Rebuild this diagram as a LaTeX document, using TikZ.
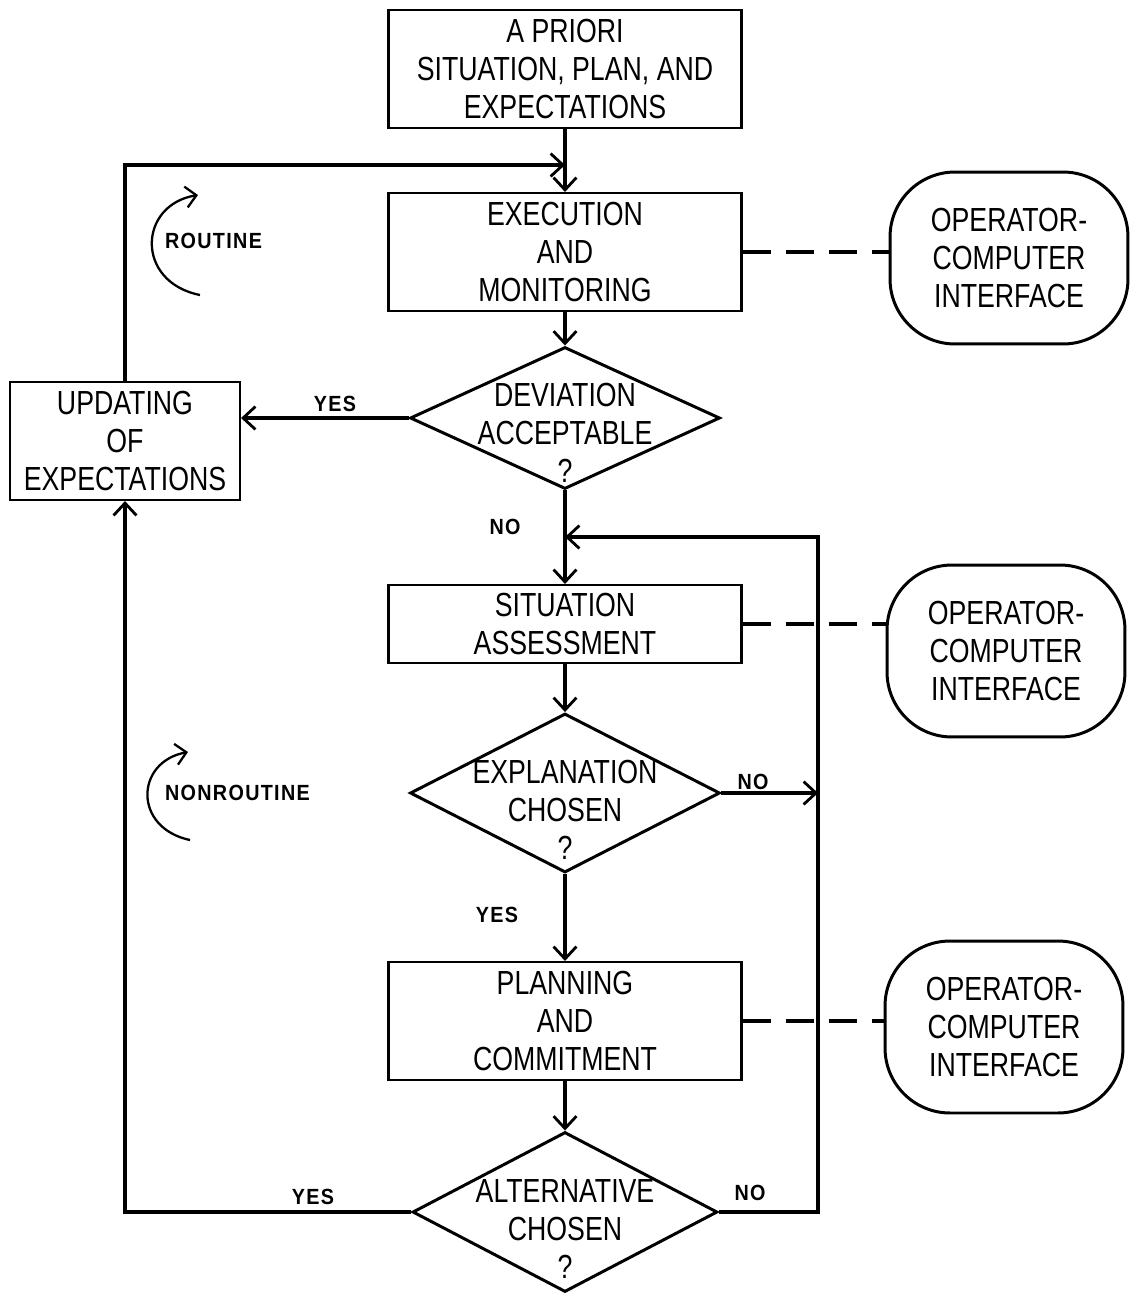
\documentclass[tikz,border=0pt]{standalone}
\usepackage{fontspec}
\setmainfont[FakeStretch=0.8]{Liberation Sans}
\newfontfamily\lblfont[FakeStretch=0.9,LetterSpace=6]{Liberation Sans}
\usetikzlibrary{arrows.meta,shapes.geometric,calc}

\tikzset{
  txt/.style={font=\fontsize{19}{21.8}\selectfont,align=center},
  box/.style={txt,draw,line width=1.2pt,inner sep=0pt,minimum width=7.06cm,minimum height=2.36cm},
  decision/.style={diamond,draw,line width=1.7pt,inner sep=0pt,minimum width=6.2cm,minimum height=2.9cm},
  iface/.style={txt,draw,line width=1.7pt,rounded corners=1.3cm,inner sep=0pt,minimum width=4.76cm,minimum height=3.44cm},
  flow/.style={line width=1.8pt,-{Straight Barb[length=7pt,width=13pt,line width=1.6pt]}},
  link/.style={line width=1.9pt,dash pattern=on 0.56cm off 0.3cm},
  turn/.style={line width=1.3pt,-{Straight Barb[length=6pt,width=12pt,line width=1.3pt]}},
  lbl/.style={font=\lblfont\bfseries\fontsize{12.5}{14}\selectfont,inner sep=1pt}
}

\begin{document}
\begin{tikzpicture}[x=0.02cm,y=-0.02cm]
  \useasboundingbox (0,0) rectangle (1131,1295);
  % main column
  \node[box] (A) at (565,69) {A PRIORI\\SITUATION, PLAN, AND\\EXPECTATIONS};
  \node[box] (E) at (565,252) {EXECUTION\\AND\\MONITORING};
  \node[decision,minimum height=2.84cm] (D) at (565,418) {};
  \node[txt] (Dt) at (565,433) {DEVIATION\\ACCEPTABLE\\?};
  \node[box,minimum height=1.56cm] (S) at (565,624) {SITUATION\\ASSESSMENT};
  \node[decision,minimum height=3.18cm] (X) at (565,793) {};
  \node[txt] (Xt) at (565,810) {EXPLANATION\\CHOSEN\\?};
  \node[box] (P) at (565,1021) {PLANNING\\AND\\COMMITMENT};
  \node[decision,minimum width=6.1cm,minimum height=3.2cm] (L) at (565,1212) {};
  \node[txt] (Lt) at (565,1229) {ALTERNATIVE\\CHOSEN\\?};
  % left
  \node[box,minimum width=4.6cm] (U) at (125,441) {UPDATING\\OF\\EXPECTATIONS};
  % right
  \node[iface] (I1) at (1009,258) {OPERATOR-\\COMPUTER\\INTERFACE};
  \node[iface] (I2) at (1006,651) {OPERATOR-\\COMPUTER\\INTERFACE};
  \node[iface] (I3) at (1004,1027) {OPERATOR-\\COMPUTER\\INTERFACE};

  \coordinate (J0) at (565,165);
  \coordinate (J1) at (565,537);
  \coordinate (R) at (818,537);

  \draw[flow] (A) -- (E);
  \draw[flow] (E) -- (D.north);
  \draw[flow] (D.south) -- (S);
  \draw[flow] (S) -- (X.north);
  \draw[flow] (X.south) -- (P);
  \draw[flow] (P) -- (L.north);
  \draw[flow] (D.west) -- (U.east |- D.west);
  \draw[flow] (U.north) |- (J0);
  \draw[flow] (L.west) -| (U.south);
  \draw[flow] (L.east) -| (R) -- (J1);
  \draw[flow] (X.east) -- (X.east -| R);

  \draw[link] (E.east) -- (E.east -| I1.west);
  \draw[link] (S.east) -- (S.east -| I2.west);
  \draw[link] (P.east) -- (P.east -| I3.west);

  \node[lbl] (y1) at (335,404) {YES};
  \node[lbl] (n1) at (505,527) {NO};
  \node[lbl] (n2) at (753,782) {NO};
  \node[lbl] (y2) at (497,915) {YES};
  \node[lbl] (y3) at (313,1197) {YES};
  \node[lbl] (n3) at (750,1193) {NO};

  \node[lbl,anchor=west] (rt) at (163,241) {ROUTINE};
  \draw[turn] (200,295) .. controls (135,282) and (138,205) .. (198,195);
  \node[lbl,anchor=west] (nrt) at (163,793) {NONROUTINE};
  \draw[turn] (190,840) .. controls (133,828) and (135,762) .. (188,752);
\end{tikzpicture}
\end{document}
